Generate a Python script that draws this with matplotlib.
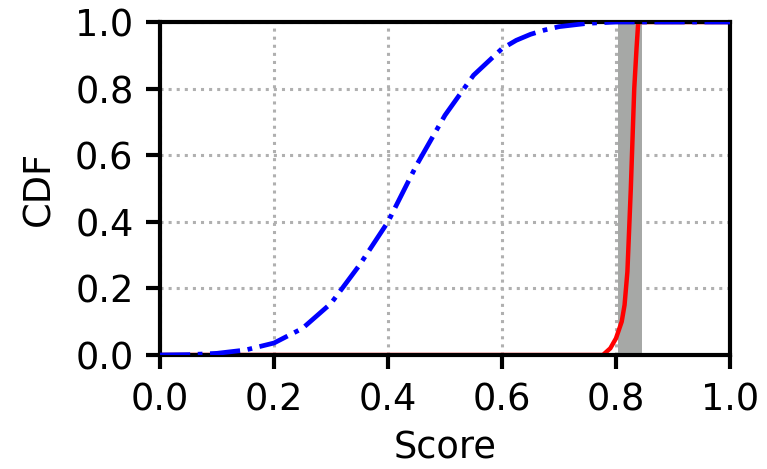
import matplotlib
matplotlib.use("Agg")
import matplotlib.pyplot as plt

blue_x = [0.0, 0.05, 0.1, 0.15, 0.2, 0.25, 0.3, 0.35, 0.4, 0.45, 0.5, 0.55, 0.6, 0.625, 0.65, 0.675, 0.7, 0.75, 0.8, 1.0]
blue_y = [0.0, 0.001, 0.005, 0.015, 0.036, 0.08, 0.155, 0.27, 0.40, 0.57, 0.72, 0.84, 0.92, 0.945, 0.963, 0.976, 0.986, 0.996, 1.0, 1.0]

red_x = [0.0, 0.777, 0.79, 0.80, 0.81, 0.815, 0.82, 0.826, 0.832, 0.836, 0.839, 1.0]
red_y = [0.0, 0.0, 0.02, 0.05, 0.10, 0.15, 0.25, 0.50, 0.80, 0.92, 1.0, 1.0]

band = [0.804, 0.846]
ticks = [0.0, 0.2, 0.4, 0.6, 0.8, 1.0]
tick_labels = ["0.0", "0.2", "0.4", "0.6", "0.8", "1.0"]

plt.rcParams['font.family'] = ['DejaVu Sans']
fig = plt.figure(figsize=(7.67, 4.69), dpi=100)
ax = fig.add_axes([160/767, 1-355/469, 570/767, 333/469])

ax.grid(True, color='#b0b0b0', linestyle=':', linewidth=2.2, zorder=0)
ax.set_axisbelow(True)
ax.axvspan(band[0], band[1], color='#a6a8a6', zorder=1, linewidth=0)
ax.plot(blue_x, blue_y, color='blue', linestyle='-.', linewidth=3.4, zorder=3)
ax.plot(red_x, red_y, color='red', linestyle='-', linewidth=3.2, zorder=2)

ax.set_xlim(0, 1)
ax.set_ylim(0, 1)
ax.set_xticks(ticks)
ax.set_xticklabels(tick_labels)
ax.set_yticks(ticks)
ax.set_yticklabels(tick_labels)
ax.tick_params(labelsize=26.5, width=3.0, length=10, pad=9)
for s in ax.spines.values():
    s.set_linewidth(3.0)
ax.set_xlabel("Score", fontsize=26.5, labelpad=8)
ax.set_ylabel("CDF", fontsize=26.5, labelpad=13)

fig.savefig("out.png", dpi=100)
